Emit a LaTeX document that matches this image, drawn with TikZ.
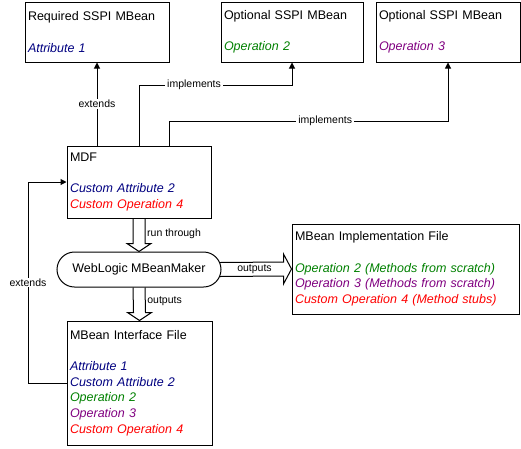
\documentclass[tikz,border=0pt]{standalone}
\usepackage{fontspec}
\setmainfont{Liberation Sans}
\usetikzlibrary{shapes.misc}
\usetikzlibrary{arrows.meta}
\usetikzlibrary{positioning}
\usetikzlibrary{calc}
\definecolor{attrblue}{RGB}{0,0,128}
\definecolor{opgreen}{RGB}{0,128,0}
\definecolor{oppurple}{RGB}{128,0,128}
\definecolor{opred}{RGB}{255,0,0}
\tikzstyle{bean}=[
        draw,
        rectangle,
        line width=1pt,
        inner xsep=3pt,
        inner ysep=0pt,
        align=left,
        font=\fontsize{12.5}{15.7}\selectfont
]
\tikzstyle{maker}=[draw,rounded rectangle,line width=1pt,minimum width=164pt,
minimum height=35pt,inner sep=0pt,font=\fontsize{12.5}{15}\selectfont]
\tikzstyle{link}=[-{Triangle[length=6pt,width=6pt]},line width=1pt]
\tikzstyle{hollow}=[draw,line width=1pt]
\tikzstyle{onlink}=[fill=white,inner xsep=2pt,inner ysep=1pt,font=\fontsize{10.5}{12}\selectfont]
\tikzstyle{beside}=[inner sep=1pt,font=\fontsize{10.5}{12}\selectfont]

\begin{document}
\begin{tikzpicture}[x=1pt,y=-1pt]
\useasboundingbox (0,0) rectangle (521,448);
\node[bean,text width=138pt,minimum height=60pt] (req) at (97,32)
  {Required SSPI MBean\\[15.7pt]\color{attrblue}\itshape Attribute 1};
\node[bean,text width=136pt,minimum height=60pt] (opt2) at (292,32)
  {Optional SSPI MBean\\[15.7pt]\color{opgreen}\itshape Operation 2};
\node[bean,text width=138pt,minimum height=60pt] (opt3) at (448,32)
  {Optional SSPI MBean\\[15.7pt]\color{oppurple}\itshape Operation 3};
\node[bean,text width=138pt,minimum height=72pt] (mdf) at (139,182)
  {MDF\\[15.7pt]{\color{attrblue}\itshape Custom Attribute 2}\\
   {\color{opred}\itshape Custom Operation 4}};
\node[maker] (mbm) at (139,269.5) {WebLogic MBeanMaker};
\node[bean,text width=221pt,minimum height=90pt] (impl) at (405.5,269)
  {MBean Implementation File\\[15.7pt]
   {\color{opgreen}\itshape Operation 2 (Methods from scratch)}\\
   {\color{oppurple}\itshape Operation 3 (Methods from scratch)}\\
   {\color{opred}\itshape Custom Operation 4 (Method stubs)}};
\node[bean,text width=139pt,minimum height=124pt] (iface) at (139.5,383)
  {MBean Interface File\\[15.7pt]
   {\color{attrblue}\itshape Attribute 1}\\
   {\color{attrblue}\itshape Custom Attribute 2}\\
   {\color{opgreen}\itshape Operation 2}\\
   {\color{oppurple}\itshape Operation 3}\\
   {\color{opred}\itshape Custom Operation 4}};
\coordinate (k1) at (139,85);
\coordinate (k2) at (169,121);
\coordinate (k3) at (28,383);
%Drawing Edges
\draw[link] (mdf.north -| req.south) -- (req.south) node[midway,onlink]{extends};
\draw[link] (mdf.north) -- (k1) -| node[pos=0.18,onlink]{implements} (opt2.south);
\draw[link] (mdf.north -| k2) -- (k2) -| node[pos=0.28,onlink]{implements} (opt3.south);
\draw[link] (iface.west) -- (k3) |- node[pos=0.25,onlink]{extends} (mdf.west);
%Block arrows
\draw[hollow] ($(mdf.south)+(-6,0)$) -- ($(mbm.north)+(-6,-8)$) -- ($(mbm.north)+(-12,-8)$)
  -- (mbm.north) -- ($(mbm.north)+(12,-8)$) -- ($(mbm.north)+(6,-8)$) -- ($(mdf.south)+(6,0)$);
\node[beside,anchor=west] (runlbl) at ($(mdf.south)!0.45!(mbm.north)+(7,0)$) {run through};
\draw[hollow] ($(mbm.south)+(-6,0)$) -- ($(iface.north)+(-6,-8)$) -- ($(iface.north)+(-12,-8)$)
  -- (iface.north) -- ($(iface.north)+(12,-8)$) -- ($(iface.north)+(6,-8)$) -- ($(mbm.south)+(6,0)$);
\node[beside,anchor=west] (outlbl) at ($(mbm.south)!0.4!(iface.north)+(7,0)$) {outputs};
\draw[hollow] ($(mbm.east)+(-1.5,-7)$) -- ($(impl.west)+(-8,-7)$) -- ($(impl.west)+(-8,-15)$)
  -- (impl.west) -- ($(impl.west)+(-8,15)$) -- ($(impl.west)+(-8,7)$) -- ($(mbm.east)+(-1.5,7)$);
\node[beside] (outlbl2) at ($(mbm.east)!0.5!(impl.west)+(-2,0)$) {outputs};
\end{tikzpicture}
\end{document}
